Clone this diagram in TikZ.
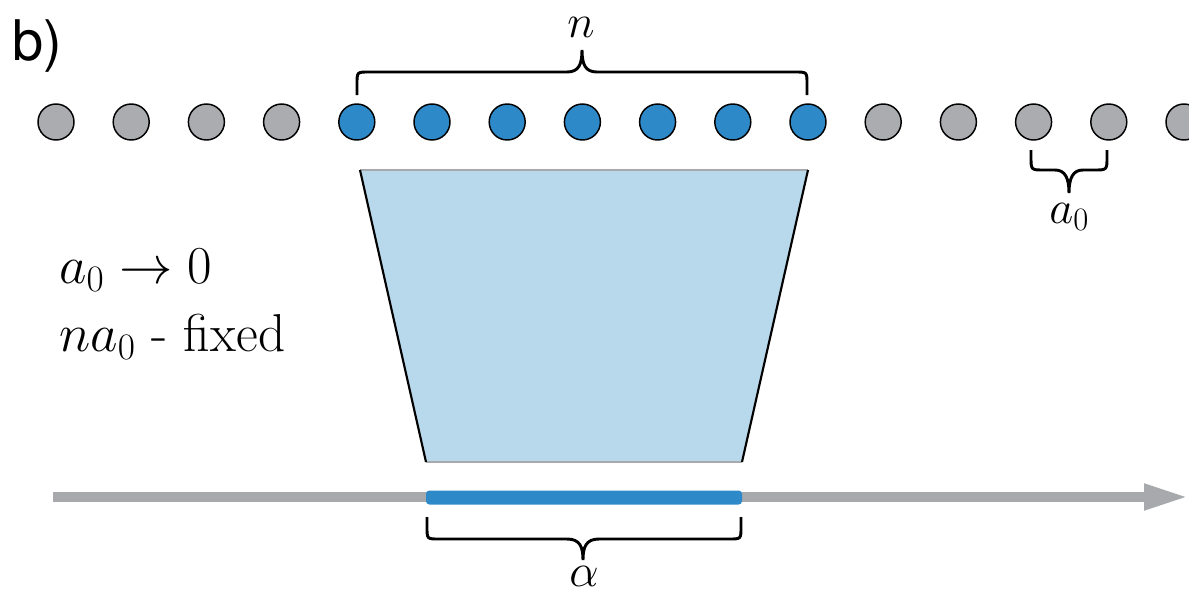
\RequirePackage{fix-cm}
\documentclass[tikz,border=0pt]{standalone}
\usepackage{fontspec}
\newfontfamily\hvfont{TeX Gyre Heros}
\usetikzlibrary{arrows.meta}
\definecolor{dotgray}{RGB}{170,172,176}
\definecolor{dotblue}{RGB}{46,137,200}
\definecolor{lightblue}{RGB}{184,216,236}
\definecolor{axisgray}{RGB}{167,169,172}
\tikzset{
  gdot/.style={circle,draw=black,line width=1.1pt,fill=dotgray,minimum size=27pt,inner sep=0pt},
  bdot/.style={gdot,fill=dotblue},
  brc/.style={draw=black,line width=2.2pt},
  lbl/.style={font=\fontsize{35}{42}\selectfont,inner sep=0pt},
  sidetxt/.style={font=\fontsize{40}{48}\selectfont,inner sep=0pt,anchor=base west},
}
\begin{document}
\begin{tikzpicture}[x=0.75pt,y=-0.75pt]
\useasboundingbox (0,0) rectangle (1189,593);
% panel label
\node[font=\hvfont\fontsize{42}{48}\selectfont,anchor=base west,inner sep=0pt] (panel) at (12,60) {b)};
% dots
\foreach \i in {0,...,15}{
  \pgfmathsetmacro{\xx}{56+75.2*\i}
  \ifnum\i<4 \node[gdot] (c\i) at (\xx,122) {};
  \else\ifnum\i<11 \node[bdot] (c\i) at (\xx,122) {};
  \else \node[gdot] (c\i) at (\xx,122) {};
  \fi\fi
}
% trapezoid
\coordinate (tl) at (360,170);
\coordinate (tr) at (808,170);
\coordinate (bl) at (426,462);
\coordinate (br) at (742,462);
\fill[lightblue] (tl) -- (tr) -- (br) -- (bl) -- cycle;
\draw[axisgray,line width=2.2pt] (tl) -- (tr);
\draw[axisgray,line width=2.2pt] (bl) -- (br);
\draw[black,line width=1.6pt] (tl) -- (bl);
\draw[black,line width=1.6pt] (tr) -- (br);
% axis
\coordinate (axL) at (53,497);
\coordinate (axR) at (1189,497);
\draw[axisgray,line width=7.5pt,-{Triangle[length=33.75pt,width=18pt]}] (axL) -- (axR);
% blue segment
\fill[dotblue,rounded corners=2.5pt] (426,490.5) rectangle (742,504.5);
% brace n
\draw[brc] (357,95) -- (357,84) .. controls (357,72) .. (369,72) -- (567,72)
  .. controls (579,72) and (582,64) .. (582,50)
  .. controls (582,64) and (585,72) .. (597,72) -- (795,72)
  .. controls (807,72) .. (807,84) -- (807,95);
\node[lbl,anchor=base] (nlab) at (581,37) {$n$};
% brace a0
\draw[brc] (1031,150) -- (1031,157) .. controls (1031,170) .. (1044,170) -- (1055,170)
  .. controls (1065,170) and (1069,178) .. (1069,193)
  .. controls (1069,178) and (1073,170) .. (1083,170) -- (1094,170)
  .. controls (1107,170) .. (1107,157) -- (1107,150);
\node[lbl,anchor=base west] (alab) at (1049,223) {$a_0$};
% brace alpha
\draw[brc] (427,517) -- (427,527) .. controls (427,539) .. (439,539) -- (567,539)
  .. controls (580,539) and (583,547) .. (583,560)
  .. controls (583,547) and (586,539) .. (599,539) -- (729,539)
  .. controls (741,539) .. (741,527) -- (741,517);
\node[lbl,anchor=base] (alphalab) at (584,586) {$\alpha$};
% left texts
\node[sidetxt] (t1) at (59,283) {$a_0\rightarrow 0$};
\node[sidetxt] (t2) at (59,351) {$na_0$ - fixed};
\end{tikzpicture}
\end{document}
